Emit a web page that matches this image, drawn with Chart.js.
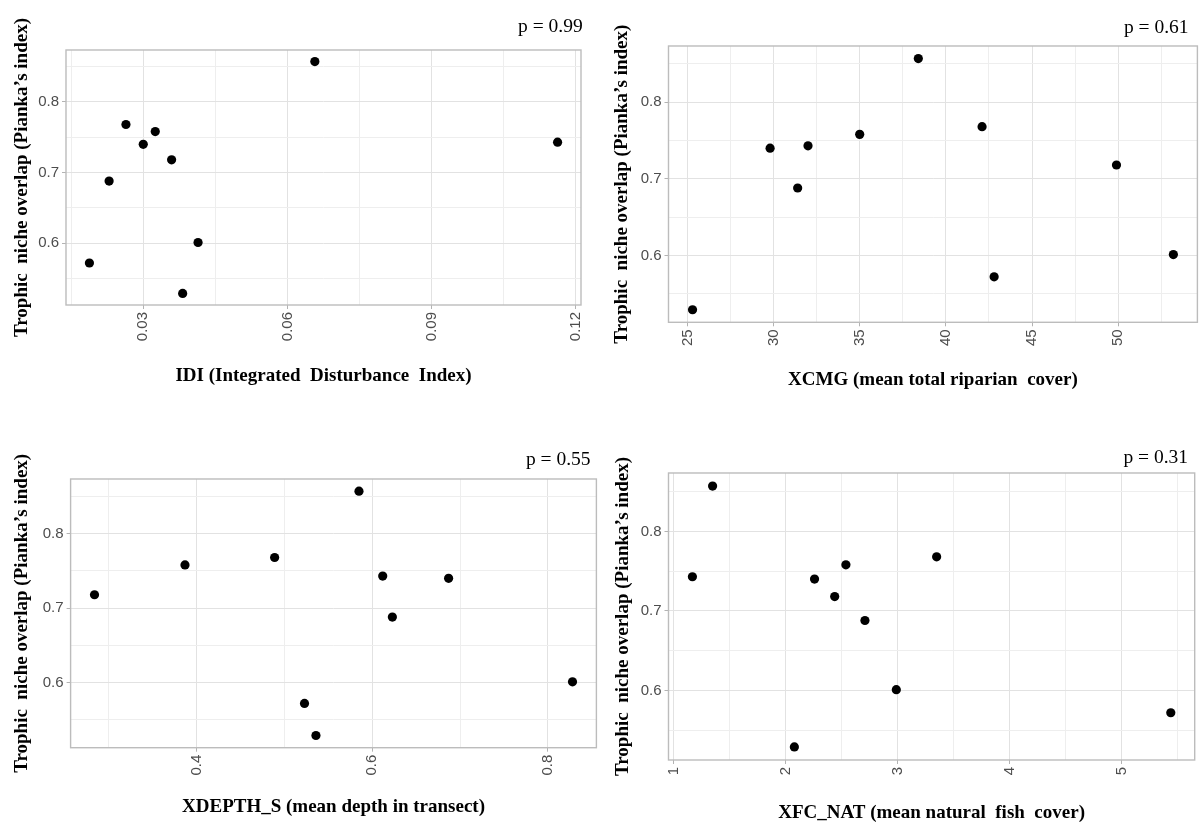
<!DOCTYPE html>
<html>
<head>
<meta charset="utf-8">
<script src="https://cdn.jsdelivr.net/npm/chart.js@4.4.0/dist/chart.umd.min.js"></script>
<style>
html,body{margin:0;padding:0;background:#fff;width:1202px;height:825px;overflow:hidden}
.panel{position:absolute}
canvas{display:block}
</style>
</head>
<body>
<div class="panel" style="left:0;top:0;width:601px;height:400px"><canvas id="c1" width="601" height="400"></canvas></div>
<div class="panel" style="left:601px;top:0;width:601px;height:400px"><canvas id="c2" width="601" height="400"></canvas></div>
<div class="panel" style="left:0;top:400px;width:601px;height:425px"><canvas id="c3" width="601" height="425"></canvas></div>
<div class="panel" style="left:601px;top:400px;width:601px;height:425px"><canvas id="c4" width="601" height="425"></canvas></div>
<script>
// ---- data (10 sites, same order in every array) ----
const overlap = [0.857, 0.768, 0.758, 0.743, 0.740, 0.718, 0.688, 0.601, 0.572, 0.529];
const idi     = [0.0657, 0.0264, 0.0325, 0.1162, 0.0300, 0.0359, 0.0229, 0.0414, 0.0188, 0.0382];
const xcmg    = [38.4, 42.1, 35.0, 32.0, 29.8, 49.9, 31.4, 53.2, 42.8, 25.3];
const xdepth  = [0.585, 0.489, 0.387, 0.612, 0.687, 0.284, 0.623, 0.828, 0.523, 0.536];
const xfcNat  = [1.35, 3.35, 2.54, 1.17, 2.26, 2.44, 2.71, 2.99, 5.44, 2.08];

// ---- ticks ----
const yMajor = [0.6, 0.7, 0.8];
const yMinor = [0.55, 0.65, 0.75, 0.85];
const yLabels = ['0.6', '0.7', '0.8'];
const idiMajor = [0.03, 0.06, 0.09, 0.12];
const idiMinor = [0.015, 0.045, 0.075, 0.105];
const idiLabels = ['0.03', '0.06', '0.09', '0.12'];
const xcmgMajor = [25, 30, 35, 40, 45, 50];
const xcmgMinor = [27.5, 32.5, 37.5, 42.5, 47.5, 52.5];
const xcmgLabels = ['25', '30', '35', '40', '45', '50'];
const depthMajor = [0.4, 0.6, 0.8];
const depthMinor = [0.3, 0.5, 0.7];
const depthLabels = ['0.4', '0.6', '0.8'];
const fcMajor = [1, 2, 3, 4, 5];
const fcMinor = [1.5, 2.5, 3.5, 4.5, 5.5];
const fcLabels = ['1', '2', '3', '4', '5'];

// ---- texts ----
const yTitle = 'Trophic  niche overlap (Pianka’s index)';
const xTitles = ['IDI (Integrated  Disturbance  Index)', 'XCMG (mean total riparian  cover)',
                 'XDEPTH_S (mean depth in transect)', 'XFC_NAT (mean natural  fish  cover)'];
const pValues = ['0.99', '0.61', '0.55', '0.31'];

Chart.defaults.font.family = "'Liberation Sans', Arial, sans-serif";

const SERIF = "'Liberation Serif', 'Times New Roman', serif";
const MAJOR_GRID = '#e2e2e2', MINOR_GRID = '#eeeeee', FRAME = '#bcbcbc', TICKCOL = '#b3b3b3';

const pLabelPlugin = {
  id: 'pLabel',
  afterDraw(chart, args, opts) {
    const {ctx, chartArea} = chart;
    ctx.save();
    ctx.font = '19.5px ' + SERIF;
    ctx.fillStyle = '#000';
    ctx.textAlign = 'right';
    ctx.textBaseline = 'alphabetic';
    ctx.fillText(opts.text, chartArea.right + opts.dx, opts.y);
    ctx.restore();
  }
};
const framePlugin = {
  id: 'frame',
  beforeDatasetsDraw(chart) {
    const {ctx, chartArea: a} = chart;
    ctx.save();
    ctx.strokeStyle = FRAME;
    ctx.lineWidth = 1.4;
    ctx.strokeRect(a.left, a.top, a.right - a.left, a.bottom - a.top);
    ctx.restore();
  }
};

function expand(arr) {
  const mn = Math.min(...arr), mx = Math.max(...arr), r = mx - mn;
  return [mn - 0.05 * r, mx + 0.05 * r];
}
function idxOf(list, v) { return list.findIndex(m => Math.abs(m - v) < 1e-9); }

function axis(major, minor, labels, range, isX, title, g) {
  const all = [...major, ...minor].sort((a, b) => a - b);
  return {
    type: 'linear',
    position: isX ? 'bottom' : 'left',
    min: range[0], max: range[1],
    afterBuildTicks: s => { s.ticks = all.map(v => ({value: v})); },
    afterFit: s => { if (isX) s.height = g.xh; else s.width = g.yw; },
    border: {display: false},
    grid: {
      color: c => (c.tick && idxOf(major, c.tick.value) >= 0) ? MAJOR_GRID : MINOR_GRID,
      lineWidth: 1,
      drawTicks: true,
      tickLength: 4,
      tickWidth: 1,
      tickColor: c => (c.tick && idxOf(major, c.tick.value) >= 0) ? TICKCOL : 'rgba(0,0,0,0)'
    },
    ticks: {
      autoSkip: false,
      minRotation: isX ? 90 : 0,
      maxRotation: isX ? 90 : 0,
      padding: 3,
      color: '#4d4d4d',
      font: {size: 15},
      callback: v => { const k = idxOf(major, v); return k >= 0 ? labels[k] : ''; }
    },
    title: {
      display: true, text: title, color: '#000',
      font: {family: SERIF, weight: 'bold', size: 19, lineHeight: 1},
      padding: isX ? {top: 0, bottom: g.xtp} : {top: g.ytp, bottom: 0}
    }
  };
}

function makePanel(id, xs, xMajor, xMinor, xLabels, xTitle, pVal, g) {
  new Chart(document.getElementById(id), {
    type: 'scatter',
    data: {datasets: [{
      data: xs.map((x, i) => ({x: x, y: overlap[i]})),
      backgroundColor: '#000', borderColor: '#000', borderWidth: 0,
      pointRadius: 4.6, pointHoverRadius: 4.6
    }]},
    options: {
      responsive: false, animation: false, events: [],
      layout: {padding: {top: g.top, right: g.right, left: 0, bottom: 0}},
      plugins: {
        legend: {display: false}, tooltip: {enabled: false},
        pLabel: {text: 'p = ' + pVal, dx: g.pdx, y: g.py}
      },
      scales: {
        x: axis(xMajor, xMinor, xLabels, expand(xs), true, xTitle, g),
        y: axis(yMajor, yMinor, yLabels, expand(overlap), false, yTitle, g)
      }
    },
    plugins: [framePlugin, pLabelPlugin]
  });
}

makePanel('c1', idi, idiMajor, idiMinor, idiLabels, xTitles[0], pValues[0],
  {top: 50, right: 20, yw: 66, xh: 95, ytp: 12.5, xtp: 14.5, pdx: 1.7, py: 32});
makePanel('c2', xcmg, xcmgMajor, xcmgMinor, xcmgLabels, xTitles[1], pValues[1],
  {top: 46, right: 4.5, yw: 67.5, xh: 77.7, ytp: 11.5, xtp: 10.5, pdx: -8.8, py: 33});
makePanel('c3', xdepth, depthMajor, depthMinor, depthLabels, xTitles[2], pValues[2],
  {top: 79, right: 3.5, yw: 70.6, xh: 77.3, ytp: 12.5, xtp: 8.8, pdx: -5.8, py: 65});
makePanel('c4', xfcNat, fcMajor, fcMinor, fcLabels, xTitles[3], pValues[3],
  {top: 73, right: 7.3, yw: 67.5, xh: 65, ytp: 12.5, xtp: 2.5, pdx: -6.7, py: 63});
</script>
</body>
</html>
